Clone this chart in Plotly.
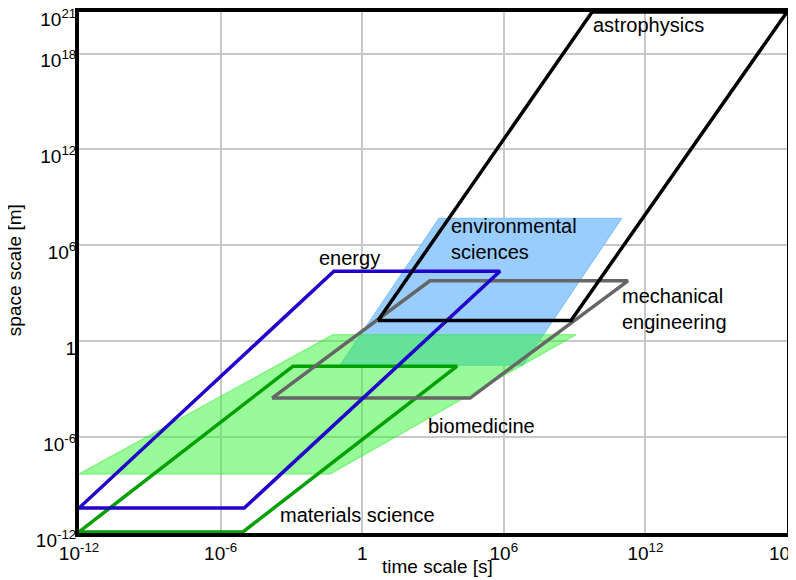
import plotly.graph_objects as go

# exponents (log10) of vertices
astro_t = [0.67, 8.85, 18.0, 9.74]
astro_s = [1.3, 1.3, 20.6, 20.6]

env_t = [-0.94, 6.81, 11.0, 3.25]
env_s = [-1.5, -1.5, 7.69, 7.69]

mech_t = [-3.82, 4.57, 11.26, 2.87]
mech_s = [-3.56, -3.56, 3.78, 3.78]

energy_t = [-12.0, -5.0, 5.84, -1.2]
energy_s = [-10.44, -10.44, 4.375, 4.375]

mat_t = [-12.0, -5.05, 4.02, -2.93]
mat_s = [-11.93, -11.93, -1.56, -1.56]

bio_t = [-12.0, -1.36, 9.06, -1.24]
bio_s = [-8.31, -8.31, 0.41, 0.41]

x_ticks = [-12, -6, 0, 6, 12, 18]
x_labels = ["10<sup>-12</sup>", "10<sup>-6</sup>", "1", "10<sup>6</sup>", "10<sup>12</sup>", "10<sup>18</sup>"]
y_ticks = [-12, -6, 0, 6, 12, 18, 20.6]
y_labels = ["10<sup>-12</sup>", "10<sup>-6</sup>", "1", "10<sup>6</sup>", "10<sup>12</sup>", "10<sup>18</sup>", "10<sup>21</sup>"]


def closed(t, s):
    xs = [10 ** v for v in t] + [10 ** t[0]]
    ys = [10 ** v for v in s] + [10 ** s[0]]
    return xs, ys


fig = go.Figure()

# filled regions
x, y = closed(env_t, env_s)
fig.add_trace(go.Scatter(x=x, y=y, mode="lines", fill="toself",
                         fillcolor="rgb(153,204,255)",
                         line=dict(color="rgb(120,190,250)", width=1),
                         hoverinfo="skip", showlegend=False))
x, y = closed(bio_t, bio_s)
fig.add_trace(go.Scatter(x=x, y=y, mode="lines", fill="toself",
                         fillcolor="rgba(50,245,50,0.5)",
                         line=dict(color="rgba(50,235,50,0.5)", width=1.2),
                         hoverinfo="skip", showlegend=False))

# outlined regions
for t, s, col in [(mat_t, mat_s, "#00A000"),
                  (mech_t, mech_s, "#666666"),
                  (energy_t, energy_s, "#2200CC"),
                  (astro_t, astro_s, "#000000")]:
    x, y = closed(t, s)
    fig.add_trace(go.Scatter(x=x, y=y, mode="lines",
                             line=dict(color=col, width=3.5),
                             hoverinfo="skip", showlegend=False))

FONT = "Liberation Sans"
labels = [
    ("astrophysics", 9.7, 19.8),
    ("environmental<br>sciences", 3.68, 6.375),
    ("mechanical<br>engineering", 10.92, 2.0),
    ("biomedicine", 2.71, -5.31),
    ("materials science", -3.56, -10.9),
]
for txt, lx, ly in labels:
    fig.add_annotation(x=lx, y=ly, text=txt, showarrow=False, xanchor="left",
                       yanchor="middle", align="left",
                       font=dict(family=FONT, size=20, color="black"))
fig.add_annotation(x=-0.52, y=5.19, text="energy", showarrow=False,
                   xanchor="center", yanchor="middle",
                   font=dict(family=FONT, size=20, color="black"))

# axis titles
fig.add_annotation(xref="paper", yref="paper", x=0.506, y=-0.065, text="time scale [s]",
                   showarrow=False, xanchor="center", yanchor="middle",
                   font=dict(family=FONT, size=19, color="black"))
fig.add_annotation(xref="paper", yref="paper", x=-0.09, y=0.505, text="space scale [m]",
                   showarrow=False, xanchor="center", yanchor="middle", textangle=-90,
                   font=dict(family=FONT, size=19, color="black"))

axis_common = dict(type="log", showline=True, linecolor="black", linewidth=4,
                   mirror=True, showgrid=True, gridcolor="#C8C8C8", gridwidth=2,
                   zeroline=False, ticks="", automargin=False, ticklabeloverflow="allow",
                   tickfont=dict(family=FONT, size=19, color="black"))

fig.update_layout(
    width=796, height=580,
    margin=dict(l=71, r=17, t=4, b=55),
    paper_bgcolor="white", plot_bgcolor="white",
    font=dict(family=FONT, color="black"),
    xaxis=dict(range=[-12, 18], tickvals=[10 ** v for v in x_ticks], ticktext=x_labels,
               **axis_common),
    yaxis=dict(range=[-12, 20.601], tickvals=[10 ** v for v in y_ticks], ticktext=y_labels,
               ticklabelshift=7, ticklabelstandoff=-5,
               **axis_common),
)

fig.write_html("out.html")
